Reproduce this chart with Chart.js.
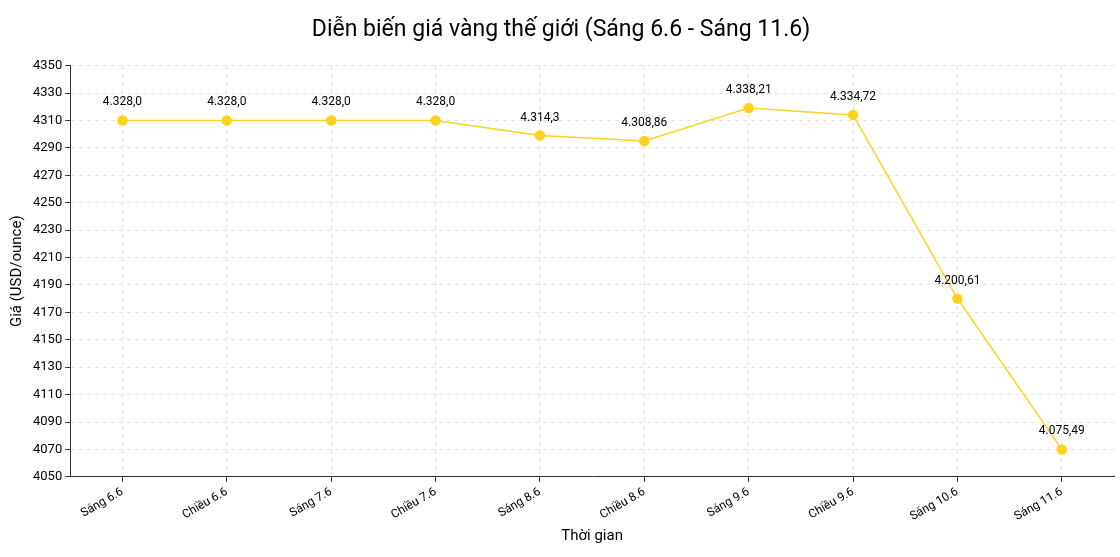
<!DOCTYPE html>
<html><head><meta charset="utf-8">
<script src="https://cdn.jsdelivr.net/npm/chart.js@4"></script>
<style>html,body{margin:0;padding:0;background:#fff}#w{width:1120px;height:557px}</style>
</head><body><div id="w"><canvas id="c"></canvas></div>
<script>
const categories = ["Sáng 6.6","Chiều 6.6","Sáng 7.6","Chiều 7.6","Sáng 8.6","Chiều 8.6","Sáng 9.6","Chiều 9.6","Sáng 10.6","Sáng 11.6"];
const plottedValues = [4310,4310,4310,4310,4299,4295,4319,4314,4180,4070];
const pointLabels = ["4.328,0","4.328,0","4.328,0","4.328,0","4.314,3","4.308,86","4.338,21","4.334,72","4.200,61","4.075,49"];
const yTicks = {min:4050,max:4350,step:20};
const F = "Roboto, 'Open Sans', sans-serif";
const labelPlugin = {id:'lbl',afterDatasetsDraw(chart){
  const ctx=chart.ctx, meta=chart.getDatasetMeta(0);
  ctx.save();ctx.font="12px "+F;ctx.fillStyle="#000";ctx.textAlign="center";ctx.textBaseline="bottom";
  meta.data.forEach((p,i)=>ctx.fillText(pointLabels[i],p.x,p.y-12));
  ctx.restore();}};
new Chart(document.getElementById('c'),{
  type:'line',
  data:{labels:categories,datasets:[{data:plottedValues,borderColor:'#FFD21F',backgroundColor:'#FFD21F',borderWidth:1.5,pointRadius:4.5,pointHoverRadius:4.5,tension:0}]},
  options:{responsive:true,maintainAspectRatio:false,animation:false,
    layout:{padding:{left:4,right:2,top:6,bottom:8}},
    plugins:{legend:{display:false},tooltip:{enabled:false},
      title:{display:true,text:"Diễn biến giá vàng thế giới (Sáng 6.6 - Sáng 11.6)",font:{family:F,size:23,weight:'normal'},color:'#000',padding:{top:10,bottom:22}}},
    scales:{
      x:{offset:true,grid:{color:'#e3e3e3',tickColor:'#333',tickLength:5},border:{dash:[4,4],display:true,color:'#333'},
         ticks:{color:'#000',font:{family:F,size:12},maxRotation:30,minRotation:30},
         title:{display:true,text:"Thời gian",color:'#000',font:{family:F,size:15},padding:{top:0}}},
      y:{min:yTicks.min,max:yTicks.max,grid:{color:'#e3e3e3',tickColor:'#333',tickLength:5},border:{dash:[4,4],color:'#333'},
         ticks:{stepSize:yTicks.step,color:'#000',font:{family:F,size:13},callback:v=>String(v)},
         title:{display:true,text:"Giá (USD/ounce)",color:'#000',font:{family:F,size:15}}}
    }},
  plugins:[labelPlugin]
});
</script></body></html>
